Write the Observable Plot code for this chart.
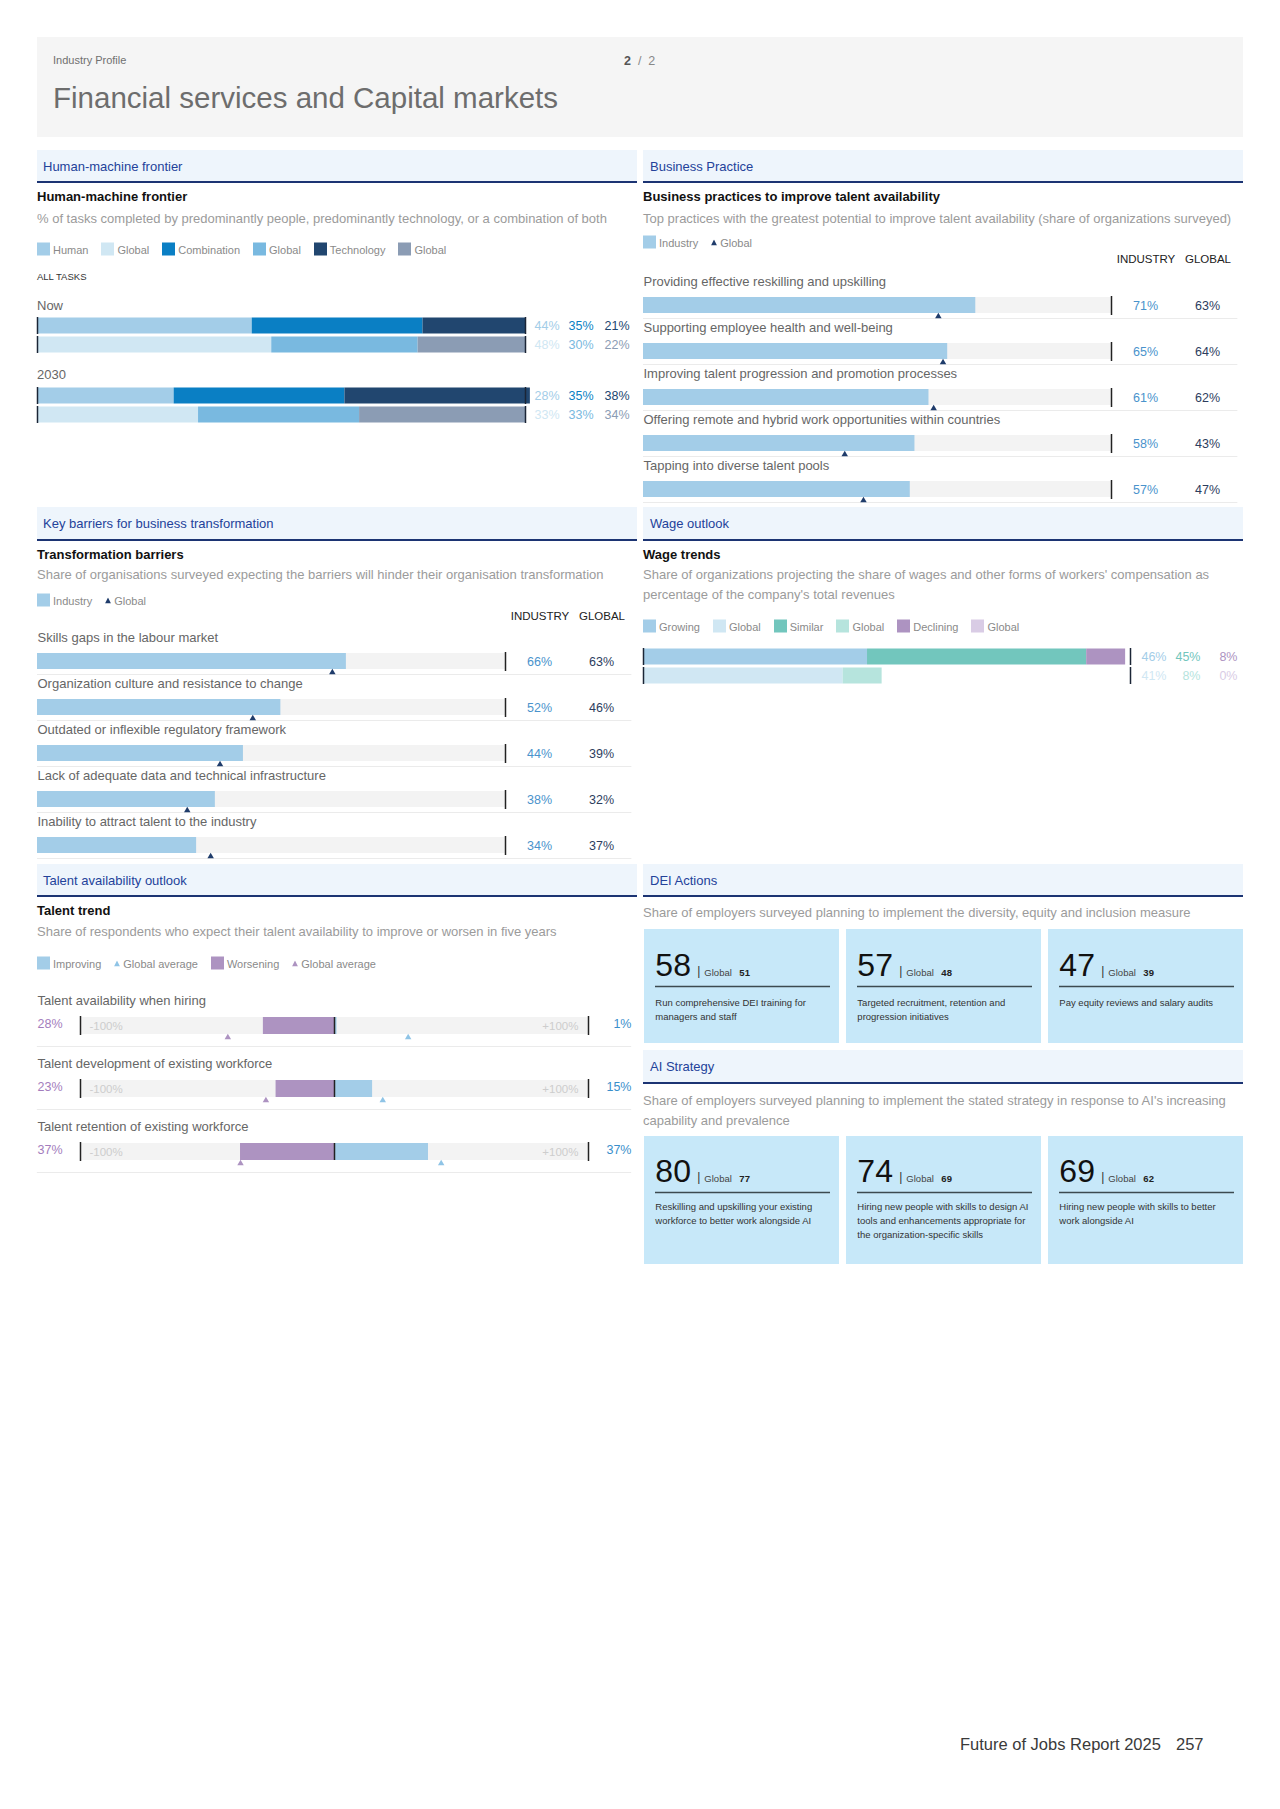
<!DOCTYPE html>
<html><head><meta charset="utf-8">
<script src="https://cdn.jsdelivr.net/npm/d3@7"></script>
<script src="https://cdn.jsdelivr.net/npm/@observablehq/plot@0.6"></script>
<style>
html,body{margin:0;padding:0;background:#fff;}
#page{position:relative;width:1280px;height:1809px;font-family:"Liberation Sans",Arial,Helvetica,sans-serif;overflow:hidden;}
.abs{position:absolute;}
.t{position:absolute;white-space:nowrap;transform:translateY(-50%);line-height:1.2;}
.sechead{position:absolute;background:#eef5fc;border-bottom:2px solid #1c3473;box-sizing:border-box;}
.sechead span{position:absolute;top:50%;transform:translateY(-50%);font-size:13px;color:#23429a;white-space:nowrap;}
.legend{position:absolute;display:flex;align-items:center;transform:translateY(-50%);font-size:11px;color:#8a8a8a;white-space:nowrap;}
.legend .item{display:flex;align-items:center;margin-right:13px;}
.legend .sw{width:13px;height:13px;margin-right:3px;}
.legend svg{margin-right:3px;}
</style></head>
<body><div id="page"></div>
<script>
// ---------------- DATA ----------------
const hmCategories = ["Human", "Combination", "Technology"];
const hmNowIndustry = [44, 35, 21];
const hmNowGlobal = [48, 30, 22];
const hm2030Industry = [28, 35, 38];
const hm2030Global = [33, 33, 34];

const bpPractices = [
  "Providing effective reskilling and upskilling",
  "Supporting employee health and well-being",
  "Improving talent progression and promotion processes",
  "Offering remote and hybrid work opportunities within countries",
  "Tapping into diverse talent pools"
];
const bpIndustry = [71, 65, 61, 58, 57];
const bpGlobal = [63, 64, 62, 43, 47];

const tbBarriers = [
  "Skills gaps in the labour market",
  "Organization culture and resistance to change",
  "Outdated or inflexible regulatory framework",
  "Lack of adequate data and technical infrastructure",
  "Inability to attract talent to the industry"
];
const tbIndustry = [66, 52, 44, 38, 34];
const tbGlobal = [63, 46, 39, 32, 37];

const wageCategories = ["Growing", "Similar", "Declining"];
const wageIndustry = [46, 45, 8];
const wageGlobal = [41, 8, 0];

const talentAspects = [
  "Talent availability when hiring",
  "Talent development of existing workforce",
  "Talent retention of existing workforce"
];
const talentImproving = [1, 15, 37];
const talentWorsening = [28, 23, 37];
const talentGlobalImproving = [29, 19, 42];
const talentGlobalWorsening = [42, 27, 37];

const deiMeasures = [
  "Run comprehensive DEI training for managers and staff",
  "Targeted recruitment, retention and progression initiatives",
  "Pay equity reviews and salary audits"
];
const deiIndustry = [58, 57, 47];
const deiGlobal = [51, 48, 39];

const aiStrategies = [
  "Reskilling and upskilling your existing workforce to better work alongside AI",
  "Hiring new people with skills to design AI tools and enhancements appropriate for the organization-specific skills",
  "Hiring new people with skills to better work alongside AI"
];
const aiIndustry = [80, 74, 69];
const aiGlobal = [77, 69, 62];

// ---------------- STYLES ----------------
const FONT = '"Liberation Sans", Arial, Helvetica, sans-serif';
const HM_COLORS = {
  Industry: ["#a3cde8", "#0a7fc4", "#21466f"],
  Global: ["#d0e7f3", "#79b9e0", "#8b9cb4"]
};
const WAGE_COLORS = {
  Industry: ["#a3cde8", "#72c6bd", "#ad93c1"],
  Global: ["#d0e7f3", "#b6e4dd", "#d9cce5"]
};
const BLUE = "#a3cde8", PURPLE = "#ad93c1", NAVY_TRI = "#1f3c6b", TRACK = "#f3f3f3", SEP = "#ebebeb", TICK = "#222";
const ROWS = ["Industry", "Global"];
const PCT = [0, 100];
const VAL_SIZE = 12.5;

// ---------------- HELPERS ----------------
const page = document.getElementById("page");
function txt(str, x, yc, style = {}) {
  const d = document.createElement("div");
  d.className = "t"; d.textContent = str;
  d.style.left = x + "px"; d.style.top = yc + "px";
  Object.assign(d.style, style);
  page.appendChild(d); return d;
}
function block(html, x, y, style = {}) {
  const d = document.createElement("div");
  d.className = "abs"; d.innerHTML = html;
  d.style.left = x + "px"; d.style.top = y + "px";
  Object.assign(d.style, style);
  page.appendChild(d); return d;
}
function put(node, x, y) {
  const d = document.createElement("div");
  d.className = "abs"; d.style.left = x + "px"; d.style.top = y + "px";
  d.appendChild(node); page.appendChild(d); return d;
}
function secHead(label, x, y, h, pad = 6) {
  const d = document.createElement("div");
  d.className = "sechead";
  Object.assign(d.style, {left: x + "px", top: y + "px", width: "600px", height: h + "px"});
  const s = document.createElement("span"); s.textContent = label; s.style.left = pad + "px";
  d.appendChild(s); page.appendChild(d);
}
function legend(items, x, yc) {
  const d = document.createElement("div");
  d.className = "legend"; d.style.left = x + "px"; d.style.top = yc + "px";
  for (const it of items) {
    const item = document.createElement("div"); item.className = "item";
    if (it.tri) {
      item.innerHTML = `<svg width="6" height="6" viewBox="0 0 6 6"><polygon points="3,0 6,6 0,6" fill="${it.color}"/></svg>`;
    } else {
      const sw = document.createElement("div"); sw.className = "sw"; sw.style.background = it.color; item.appendChild(sw);
    }
    const s = document.createElement("span"); s.textContent = it.label; item.appendChild(s);
    d.appendChild(item);
  }
  page.appendChild(d);
}
// word wrapping measured with the real font
const measureCtx = document.createElement("canvas").getContext("2d");
function wrapText(text, fontSize, maxWidth) {
  measureCtx.font = `${fontSize}px "Liberation Sans", Arial, sans-serif`;
  const words = text.split(" "), lines = [];
  let line = "";
  for (const w of words) {
    const test = line ? line + " " + w : w;
    if (line && measureCtx.measureText(test).width > maxWidth) { lines.push(line); line = w; }
    else line = test;
  }
  if (line) lines.push(line);
  return lines.join("\n");
}

// ---------------- CHART BUILDERS ----------------
function stackedPair(categories, industry, global, colors, scaleWidth, labelDx) {
  const rows = [];
  ROWS.forEach(r => {
    const vals = r === "Industry" ? industry : global;
    categories.forEach((c, i) => rows.push({row: r, cat: c, idx: i, key: r + " " + c, value: vals[i]}));
  });
  const keys = rows.map(d => d.key);
  const range = rows.map(d => colors[d.row][d.idx]);
  const ends = [];
  ROWS.forEach(r => PCT.forEach(x => ends.push({row: r, x})));
  return Plot.plot({
    width: 600, height: 38, marginLeft: 0, marginRight: 600 - scaleWidth, marginTop: 0, marginBottom: 0,
    style: {fontFamily: FONT, overflow: "visible", background: "transparent"},
    x: {domain: PCT, axis: null},
    y: {domain: ROWS, axis: null, padding: 0},
    color: {domain: keys, range},
    marks: [
      Plot.barX(rows, {x: "value", y: "row", fill: "key", insetTop: 1.5, insetBottom: 1.5}),
      Plot.tickX(ends, {x: "x", y: "row", stroke: "#1b2536", strokeWidth: 1.5, insetTop: 1, insetBottom: 1}),
      ...categories.map((c, i) => Plot.text(rows.filter(d => d.idx === i), {
        x: PCT[1], y: "row", text: d => d.value + "%", fill: "key",
        dx: labelDx[i], textAnchor: labelDx.anchor, fontSize: VAL_SIZE
      }))
    ]
  });
}

const RULE_END = 127;
function rankedChart(labels, industry, global) {
  const data = labels.map((l, i) => ({label: l, industry: industry[i], global: global[i]}));
  return Plot.plot({
    width: 600, height: 46 * labels.length + 4, marginLeft: 0, marginRight: 132, marginTop: 0, marginBottom: 4,
    style: {fontFamily: FONT, overflow: "visible", background: "transparent"},
    x: {domain: PCT, axis: null},
    y: {domain: labels, range: [0, 46 * labels.length], axis: null, padding: 0},
    marks: [
      Plot.ruleY(data, {y: "label", x1: PCT[0], x2: RULE_END, dy: 23, stroke: SEP, strokeWidth: 1}),
      Plot.barX(data, {x1: PCT[0], x2: PCT[1], y: "label", fill: TRACK, insetTop: 25, insetBottom: 5}),
      Plot.barX(data, {x: "industry", y: "label", fill: BLUE, insetTop: 25, insetBottom: 5}),
      Plot.tickX(data, {x: PCT[1], y: "label", stroke: TICK, strokeWidth: 1.5, insetTop: 24, insetBottom: 3}),
      Plot.dot(data, {x: "global", y: "label", symbol: "triangle", r: 2.4, fill: NAVY_TRI, dy: 21}),
      Plot.text(data, {x: PCT[0], y: "label", text: "label", textAnchor: "start", dy: -14, fill: "#666", fontSize: 13}),
      Plot.text(data, {x: PCT[1], y: "label", text: d => d.industry + "%", dx: 34, dy: 10, fill: "#4a93cc", fontSize: VAL_SIZE}),
      Plot.text(data, {x: PCT[1], y: "label", text: d => d.global + "%", dx: 96, dy: 10, fill: "#2d3d5e", fontSize: VAL_SIZE})
    ]
  });
}

const TALENT_RULE = 117;
function talentChart() {
  const data = talentAspects.map((l, i) => ({
    label: l, imp: talentImproving[i], wor: talentWorsening[i],
    gImp: talentGlobalImproving[i], gWor: talentGlobalWorsening[i]
  }));
  const X = [-100, 100];
  return Plot.plot({
    width: 600, height: 63 * data.length, marginLeft: 43, marginRight: 49, marginTop: 0, marginBottom: 0,
    style: {fontFamily: FONT, overflow: "visible", background: "transparent"},
    x: {domain: X, axis: null},
    y: {domain: talentAspects, axis: null, padding: 0},
    marks: [
      Plot.ruleY(data, {y: "label", x1: -TALENT_RULE, x2: TALENT_RULE, dy: 31.5, stroke: SEP}),
      Plot.barX(data, {x1: X[0], x2: X[1], y: "label", fill: TRACK, insetTop: 34, insetBottom: 12}),
      Plot.barX(data, {x1: d => -d.wor, x2: 0, y: "label", fill: PURPLE, insetTop: 34, insetBottom: 12}),
      Plot.barX(data, {x1: 0, x2: "imp", y: "label", fill: BLUE, insetTop: 34, insetBottom: 12}),
      Plot.tickX(data, {x: 0, y: "label", stroke: TICK, strokeWidth: 1.5, insetTop: 34, insetBottom: 12}),
      Plot.tickX(data, {x: X[0], y: "label", stroke: TICK, strokeWidth: 1.5, insetTop: 33, insetBottom: 11}),
      Plot.tickX(data, {x: X[1], y: "label", stroke: TICK, strokeWidth: 1.5, insetTop: 33, insetBottom: 11}),
      Plot.text(data, {x: X[0], y: "label", text: () => "-100%", dx: 9, dy: 11, textAnchor: "start", fill: "#cdcdcd", fontSize: 11.5}),
      Plot.text(data, {x: X[1], y: "label", text: () => "+100%", dx: -10, dy: 11, textAnchor: "end", fill: "#cdcdcd", fontSize: 11.5}),
      Plot.dot(data, {x: d => -d.gWor, y: "label", symbol: "triangle", r: 2.4, fill: PURPLE, dy: 22.5}),
      Plot.dot(data, {x: "gImp", y: "label", symbol: "triangle", r: 2.4, fill: "#8fc4e6", dy: 22.5}),
      Plot.text(data, {x: X[0], y: "label", text: "label", dx: -43, dy: -14.5, textAnchor: "start", fill: "#666", fontSize: 13}),
      Plot.text(data, {x: X[0], y: "label", text: d => d.wor + "%", dx: -43, dy: 8.5, textAnchor: "start", fill: "#a37dbd", fontSize: VAL_SIZE}),
      Plot.text(data, {x: X[1], y: "label", text: d => d.imp + "%", dx: 43, dy: 8.5, textAnchor: "end", fill: "#3a8fcb", fontSize: VAL_SIZE})
    ]
  });
}

function tileChart(labels, values, globals, height, shift, descShift) {
  const cards = labels.map((l, i) => ({i, label: wrapText(l, 9.5, 176), value: values[i], global: globals[i]}));
  const W = 600, PI = 0.035;
  const bw = (W / (cards.length - PI)) * (1 - PI);
  const L = -bw / 2;
  return Plot.plot({
    width: W, height, margin: 0,
    style: {fontFamily: FONT, overflow: "visible", background: "transparent"},
    x: {domain: cards.map(d => d.i), paddingInner: PI, paddingOuter: 0, axis: null},
    y: {domain: [0, height], range: [0, height], axis: null},
    marks: [
      Plot.barY(cards, {x: "i", y1: 0, y2: height, fill: "#c7e8f9"}),
      Plot.text(cards, {x: "i", y: 37 + shift, text: d => String(d.value), textAnchor: "start", dx: L + 11, fontSize: 32, fill: "#111"}),
      Plot.text(cards, {x: "i", y: 43 + shift, text: () => "|", textAnchor: "start", dx: L + 53, fontSize: 12, fill: "#333"}),
      Plot.text(cards, {x: "i", y: 44 + shift, text: () => "Global", textAnchor: "start", dx: L + 60, fontSize: 9.5, fill: "#444"}),
      Plot.text(cards, {x: "i", y: 44 + shift, text: d => String(d.global), textAnchor: "start", dx: L + 95, fontSize: 9.5, fontWeight: "bold", fill: "#222"}),
      Plot.tickY(cards, {x: "i", y: 58 + shift, insetLeft: 11, insetRight: 9, stroke: "#3c4a50", strokeWidth: 1.5}),
      Plot.text(cards, {x: "i", y: 68 + descShift, text: "label", textAnchor: "start", lineAnchor: "top", dx: L + 11, fontSize: 9.5, lineHeight: 1.5, fill: "#333"})
    ]
  });
}

// ---------------- PAGE ----------------
block("", 37, 37, {width: "1206px", height: "100px", background: "#f5f5f5"});
txt("Industry Profile", 53, 61, {fontSize: "11px", color: "#707070"});
txt("", 624, 61, {fontSize: "12.5px"}).innerHTML = '<b style="color:#555">2</b><span style="color:#888">&nbsp;&nbsp;/&nbsp;&nbsp;2</span>';
txt("Financial services and Capital markets", 53, 98, {fontSize: "29.5px", color: "#6d6d6d"});

// Row A
secHead("Human-machine frontier", 37, 150, 33);
secHead("Business Practice", 643, 150, 33, 7);

txt("Human-machine frontier", 37, 197, {fontSize: "13px", fontWeight: "bold", color: "#111"});
txt("% of tasks completed by predominantly people, predominantly technology, or a combination of both", 37, 219, {fontSize: "13px", color: "#9b9b9b"});
legend([
  {color: HM_COLORS.Industry[0], label: "Human"}, {color: HM_COLORS.Global[0], label: "Global"},
  {color: HM_COLORS.Industry[1], label: "Combination"}, {color: HM_COLORS.Global[1], label: "Global"},
  {color: HM_COLORS.Industry[2], label: "Technology"}, {color: HM_COLORS.Global[2], label: "Global"}
], 37, 249);
txt("ALL TASKS", 37, 277, {fontSize: "9.5px", color: "#333"});
txt("Now", 37, 306, {fontSize: "13px", color: "#666"});
const hmDx = [9, 43, 79]; hmDx.anchor = "start";
put(stackedPair(hmCategories, hmNowIndustry, hmNowGlobal, HM_COLORS, 488, hmDx), 37, 316);
txt("2030", 37, 375, {fontSize: "13px", color: "#666"});
put(stackedPair(hmCategories, hm2030Industry, hm2030Global, HM_COLORS, 488, hmDx), 37, 386);

txt("Business practices to improve talent availability", 643, 197, {fontSize: "13px", fontWeight: "bold", color: "#111"});
txt("Top practices with the greatest potential to improve talent availability (share of organizations surveyed)", 643, 219, {fontSize: "13px", color: "#9b9b9b"});
legend([{color: BLUE, label: "Industry"}, {tri: true, color: NAVY_TRI, label: "Global"}], 643, 242);
txt("INDUSTRY", 1146, 260, {fontSize: "11.5px", color: "#222", transform: "translate(-50%,-50%)"});
txt("GLOBAL", 1208, 260, {fontSize: "11.5px", color: "#222", transform: "translate(-50%,-50%)"});
put(rankedChart(bpPractices, bpIndustry, bpGlobal), 643, 272);

// Row B
secHead("Key barriers for business transformation", 37, 507, 34);
secHead("Wage outlook", 643, 507, 34, 7);

txt("Transformation barriers", 37, 555, {fontSize: "13px", fontWeight: "bold", color: "#111"});
txt("Share of organisations surveyed expecting the barriers will hinder their organisation transformation", 37, 575, {fontSize: "13px", color: "#9b9b9b"});
legend([{color: BLUE, label: "Industry"}, {tri: true, color: NAVY_TRI, label: "Global"}], 37, 600);
txt("INDUSTRY", 540, 617, {fontSize: "11.5px", color: "#222", transform: "translate(-50%,-50%)"});
txt("GLOBAL", 602, 617, {fontSize: "11.5px", color: "#222", transform: "translate(-50%,-50%)"});
put(rankedChart(tbBarriers, tbIndustry, tbGlobal), 37, 628);

txt("Wage trends", 643, 555, {fontSize: "13px", fontWeight: "bold", color: "#111"});
block("Share of organizations projecting the share of wages and other forms of workers' compensation as percentage of the company's total revenues",
  643, 565, {fontSize: "13px", color: "#9b9b9b", width: "600px", lineHeight: "20px"});
legend([
  {color: WAGE_COLORS.Industry[0], label: "Growing"}, {color: WAGE_COLORS.Global[0], label: "Global"},
  {color: WAGE_COLORS.Industry[1], label: "Similar"}, {color: WAGE_COLORS.Global[1], label: "Global"},
  {color: WAGE_COLORS.Industry[2], label: "Declining"}, {color: WAGE_COLORS.Global[2], label: "Global"}
], 643, 626);
const wageDx = [36, 70, 107]; wageDx.anchor = "end";
put(stackedPair(wageCategories, wageIndustry, wageGlobal, WAGE_COLORS, 487, wageDx), 643, 647);

// Row C
secHead("Talent availability outlook", 37, 864, 33);
secHead("DEI Actions", 643, 864, 33, 7);

txt("Talent trend", 37, 911, {fontSize: "13px", fontWeight: "bold", color: "#111"});
txt("Share of respondents who expect their talent availability to improve or worsen in five years", 37, 932, {fontSize: "13px", color: "#9b9b9b"});
legend([
  {color: BLUE, label: "Improving"}, {tri: true, color: "#8fc4e6", label: "Global average"},
  {color: PURPLE, label: "Worsening"}, {tri: true, color: PURPLE, label: "Global average"}
], 37, 963);
put(talentChart(), 37, 983);

txt("Share of employers surveyed planning to implement the diversity, equity and inclusion measure", 643, 913, {fontSize: "13px", color: "#9b9b9b"});
put(tileChart(deiMeasures, deiIndustry, deiGlobal, 114, -1, -2), 643, 929);

secHead("AI Strategy", 643, 1050, 34, 7);
block("Share of employers surveyed planning to implement the stated strategy in response to AI's increasing capability and prevalence",
  643, 1091, {fontSize: "13px", color: "#9b9b9b", width: "600px", lineHeight: "19.5px"});
put(tileChart(aiStrategies, aiIndustry, aiGlobal, 128, -2, -5), 643, 1136);

// Footer
txt("Future of Jobs Report 2025", 960, 1745, {fontSize: "16.5px", color: "#3a3a3a"});
txt("257", 1176, 1745, {fontSize: "16.5px", color: "#3a3a3a"});
</script>
</body></html>
